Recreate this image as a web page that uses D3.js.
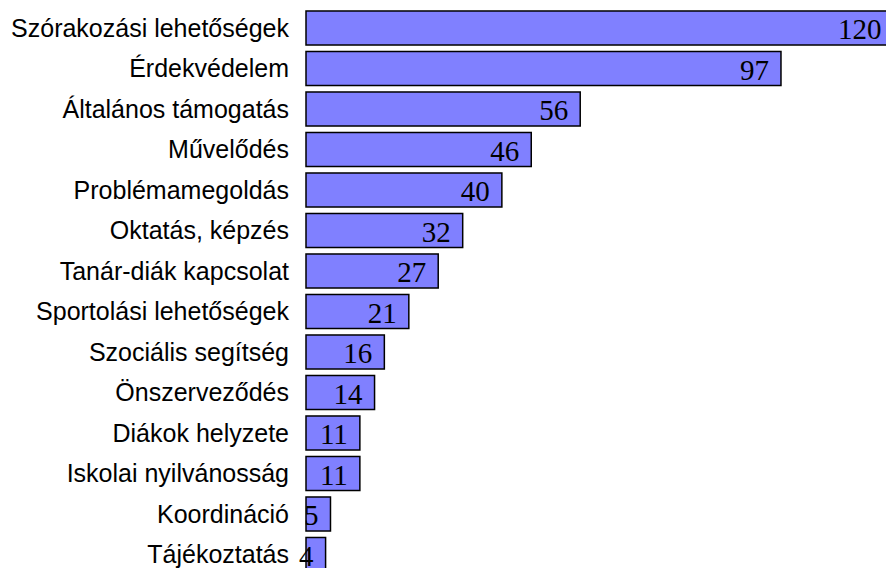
<!DOCTYPE html>
<html>
<head>
<meta charset="utf-8">
<script src="https://cdn.jsdelivr.net/npm/d3@7"></script>
<style>
  body { margin: 0; background: #fff; }
</style>
</head>
<body>
<div id="chart"></div>
<script>
// categories and values
var categories = [
  "Szórakozási lehetőségek",
  "Érdekvédelem",
  "Általános támogatás",
  "Művelődés",
  "Problémamegoldás",
  "Oktatás, képzés",
  "Tanár-diák kapcsolat",
  "Sportolási lehetőségek",
  "Szociális segítség",
  "Önszerveződés",
  "Diákok helyzete",
  "Iskolai nyilvánosság",
  "Koordináció",
  "Tájékoztatás"
];
var values = [120, 97, 56, 46, 40, 32, 27, 21, 16, 14, 11, 11, 5, 4];

var svgWidth = 886;
var svgHeight = 568;

var svg = d3.select("#chart")
  .append("svg")
  .attr("width", svgWidth)
  .attr("height", svgHeight);

// scales
var xScale = d3.scaleLinear()
  .domain([0, 120])
  .range([306, 893.6]);

var yScale = d3.scaleBand()
  .domain(categories)
  .range([7.75, 7.75 + 14 * 40.5])
  .paddingInner(0.16)
  .paddingOuter(0.08);

var data = categories.map(function(c, i) {
  return { name: c, value: values[i] };
});

// bars
svg.selectAll("rect.bar")
  .data(data)
  .enter()
  .append("rect")
  .attr("class", "bar")
  .attr("x", xScale(0))
  .attr("y", d => yScale(d.name))
  .attr("width", d => xScale(d.value) - xScale(0))
  .attr("height", yScale.bandwidth())
  .attr("fill", "#8080ff")
  .attr("stroke", "#000")
  .attr("stroke-width", 1.5);

// value labels
svg.selectAll("text.value")
  .data(data)
  .enter()
  .append("text")
  .attr("class", "value")
  .attr("x", d => xScale(d.value) - 12)
  .attr("y", d => yScale(d.name) + yScale.bandwidth() / 2 + 11)
  .attr("text-anchor", "end")
  .attr("font-family", "'Liberation Serif', 'Times New Roman', serif")
  .attr("font-size", "29px")
  .attr("fill", "#000")
  .text(d => d.value);

// category labels
svg.selectAll("text.cat")
  .data(data)
  .enter()
  .append("text")
  .attr("class", "cat")
  .attr("x", 289)
  .attr("y", d => yScale(d.name) + yScale.bandwidth() / 2 + 8.5)
  .attr("text-anchor", "end")
  .attr("font-family", "'Liberation Sans', Arial, sans-serif")
  .attr("font-size", "25px")
  .attr("fill", "#000")
  .text(d => d.name);
</script>
</body>
</html>
